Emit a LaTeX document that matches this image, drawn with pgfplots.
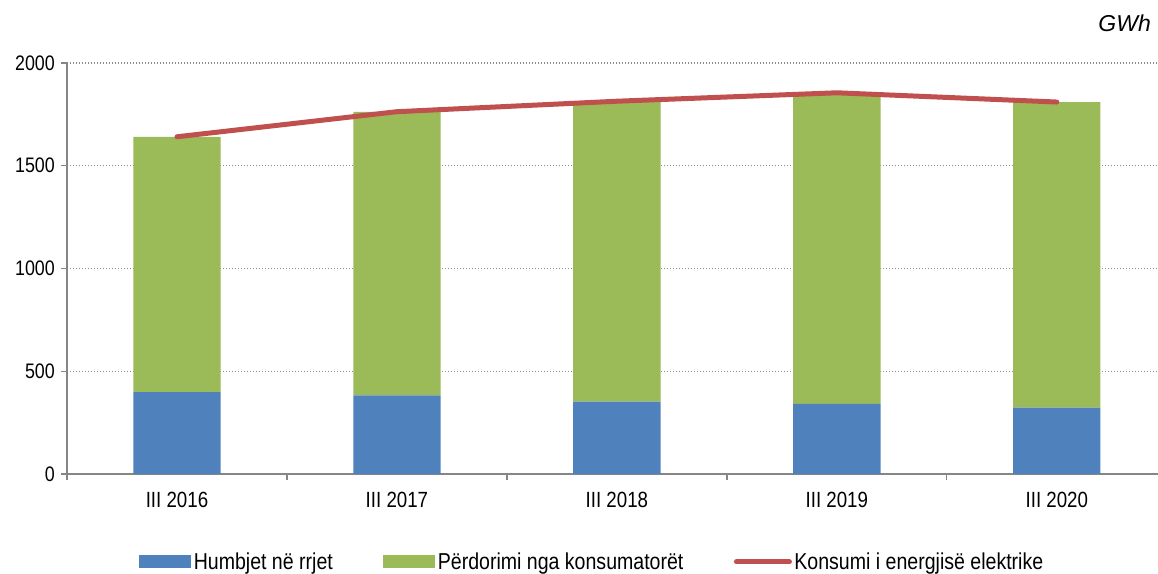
\documentclass[border=0pt]{standalone}
\usepackage{pgfplots}
\pgfplotsset{compat=1.18}
\usepackage{fontspec}
\setmainfont{Liberation Sans}[FakeStretch=0.85]
\newfontfamily\gwhfont{Liberation Sans}
\definecolor{cblue}{HTML}{4F81BD}
\definecolor{cgreen}{HTML}{9BBB59}
\definecolor{cred}{HTML}{C0504D}
\definecolor{axgray}{HTML}{868686}
\definecolor{grgray}{HTML}{8C8C8C}
\pgfplotsset{
  base/.style={
    scale only axis, width=1091pt, height=411pt,
    at={(0pt,0pt)}, anchor=south west,
    xmin=-0.5, xmax=4.46, ymin=0, ymax=2000,
  }
}
\begin{document}
\begin{tikzpicture}
\path[use as bounding box] (-67pt,-99pt) rectangle (1091pt,474pt);
\begin{axis}[base,
  ybar stacked, bar width=0.397,
  axis x line=bottom, axis y line=left,
  axis line style={draw=axgray, line width=1.3pt, -},
  tick align=outside, major tick length=6pt,
  tick style={draw=axgray, line width=1.3pt},
  ytick={0,500,1000,1500,2000},
  ymajorgrids, grid style={draw=grgray, line width=1.3pt, dash pattern=on 1.4pt off 1.6pt},
  xtick={-0.5,0.5,1.5,2.5,3.5}, xticklabels={},
  extra x ticks={0,1,2,3,4},
  extra x tick labels={III 2016,III 2017,III 2018,III 2019,III 2020},
  extra x tick style={major tick length=0pt, grid=none},
  /pgf/number format/assume math mode=true,
  /pgf/number format/1000 sep={},
  yticklabel style={font=\fontsize{21}{25}\selectfont, text=black, inner sep=0pt, xshift=-6pt},
  xticklabel style={font=\fontsize{22}{26}\selectfont, text=black, inner sep=0pt, yshift=-18pt},
  legend style={at={(0.4817,-0.214)}, anchor=center, draw=none, fill=none,
    legend columns=-1, font=\fontsize{23}{27}\selectfont,
    /tikz/every even column/.append style={column sep=48pt},
    inner sep=0pt, nodes={inner xsep=2.5pt, inner ysep=0pt}},
  legend cell align=left,
]
\addplot[fill=cblue, draw=none,
  legend image code/.code={\fill[cblue] (0pt,-6.5pt) rectangle (52pt,6.5pt);}]
  coordinates {(0,398) (1,383) (2,352) (3,341) (4,323)};
\addlegendentry{Humbjet në rrjet}
\addplot[fill=cgreen, draw=none,
  legend image code/.code={\fill[cgreen] (0pt,-6.5pt) rectangle (52pt,6.5pt);}]
  coordinates {(0,1242) (1,1379) (2,1458) (3,1504) (4,1487)};
\addlegendentry{Përdorimi nga konsumatorët}
\addlegendimage{legend image code/.code={\draw[cred, line width=5pt, line cap=round] (2pt,0pt) -- (55pt,0pt);}}
\addlegendentry{Konsumi i energjisë elektrike}
\end{axis}
\begin{axis}[base, hide axis]
\addplot[cred, line width=5pt, line cap=round, line join=round, mark=none]
  coordinates {(0,1641) (1,1763) (2,1814) (3,1855) (4,1810)};
\end{axis}
\node[anchor=base east, inner sep=0pt, font=\gwhfont\itshape\fontsize{23}{27}\selectfont] at (1084pt,442pt) {GWh};
\end{tikzpicture}
\end{document}
